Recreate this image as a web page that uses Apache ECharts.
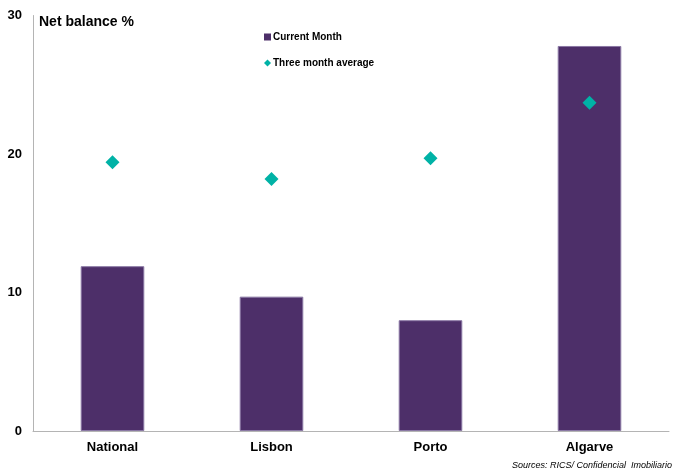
<!DOCTYPE html>
<html>
<head>
<meta charset="utf-8">
<script src="https://cdn.jsdelivr.net/npm/echarts@6/dist/echarts.min.js"></script>
<style>html,body{margin:0;padding:0;background:#fff}#c{width:675px;height:475px}</style>
</head>
<body>
<div id="c"></div>
<script>
const categories = ['National', 'Lisbon', 'Porto', 'Algarve'];
const currentMonth = [11.9, 9.7, 8.0, 27.8];
const threeMonthAvg = [19.4, 18.2, 19.7, 23.7];
const yTicks = [0, 10, 20, 30];

const FONT = '"Liberation Sans", Arial, sans-serif';
const chart = echarts.init(document.getElementById('c'), null, {renderer: 'canvas'});
chart.setOption({
  animation: false,
  backgroundColor: '#ffffff',
  textStyle: {fontFamily: FONT},
  title: {
    text: 'Net balance %',
    left: 34, top: 10,
    textStyle: {fontSize: 14, fontWeight: 'bold', color: '#000', fontFamily: FONT}
  },
  legend: {
    orient: 'vertical',
    left: 259, top: 27,
    itemWidth: 7, itemHeight: 7, itemGap: 16,
    textStyle: {fontSize: 10, fontWeight: 'bold', color: '#000', fontFamily: FONT, padding: [0,0,0,-3]},
    data: [
      {name: 'Current Month', icon: 'rect', itemStyle: {borderWidth: 0}},
      {name: 'Three month average', icon: 'diamond'}
    ]
  },
  graphic: [{
    type: 'text', right: 3, top: 461,
    style: {text: 'Sources: RICS/ Confidencial  Imobiliario', font: 'italic 9px ' + FONT, fill: '#000'}
  }],
  grid: {left: 33, right: 6, top: 15.5, bottom: 44, containLabel: false},
  xAxis: {
    type: 'category', data: categories,
    axisLine: {lineStyle: {color: '#b4b4b4', width: 1}},
    axisTick: {show: false},
    axisLabel: {fontSize: 13, fontWeight: 'bold', color: '#000', margin: 10, fontFamily: FONT}
  },
  yAxis: {
    type: 'value', min: yTicks[0], max: yTicks[yTicks.length - 1], interval: 10,
    axisLine: {show: true, lineStyle: {color: '#b4b4b4', width: 1}},
    axisTick: {show: false},
    splitLine: {show: false},
    axisLabel: {fontSize: 13, fontWeight: 'bold', color: '#000', margin: 11, fontFamily: FONT}
  },
  series: [
    {
      name: 'Current Month', type: 'bar', data: currentMonth,
      barWidth: '40%',
      itemStyle: {color: '#4d2f69', borderColor: '#8a78a4', borderWidth: 1}
    },
    {
      name: 'Three month average', type: 'scatter', data: threeMonthAvg,
      symbol: 'diamond', symbolSize: 14,
      itemStyle: {color: '#00b2a6', opacity: 1}
    }
  ]
});
</script>
</body>
</html>
